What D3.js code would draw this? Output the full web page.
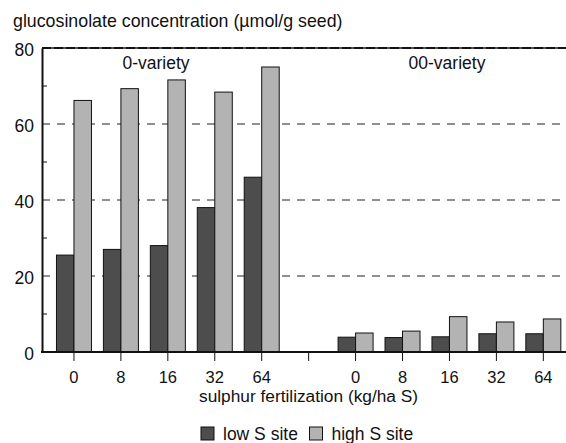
<!DOCTYPE html>
<html>
<head>
<meta charset="utf-8">
<script src="https://cdn.jsdelivr.net/npm/d3@7"></script>
<style>
  body { margin: 0; background: #fff; }
  text { font-family: "Liberation Sans", Arial, sans-serif; fill: #111; }
</style>
</head>
<body>
<div id="chart"></div>
<script>
// data
var doses = ["0", "8", "16", "32", "64"];
var varieties = ["0-variety", "00-variety"];
var seriesNames = ["low S site", "high S site"];
var lowS_0 = [25.5, 27, 28, 38, 46];
var highS_0 = [66.2, 69.3, 71.6, 68.4, 75];
var lowS_00 = [3.9, 3.8, 4.0, 4.8, 4.8];
var highS_00 = [5.0, 5.5, 9.3, 7.9, 8.7];
var yTicks = [0, 20, 40, 60, 80];
var yMinor = [10, 30, 50, 70];

var svgWidth = 566;
var svgHeight = 443;
var colors = ["#4d4d4d", "#b3b3b3"];
var fontSize = "17.5px";

var svg = d3.select("#chart").append("svg")
  .attr("width", svgWidth)
  .attr("height", svgHeight);

// categories: 5 doses, an empty slot, 5 doses
var cats = [];
doses.forEach(function(d, i) { cats.push({ key: "a" + i, dose: d, low: lowS_0[i], high: highS_0[i] }); });
cats.push({ key: "gap", dose: "", low: null, high: null });
doses.forEach(function(d, i) { cats.push({ key: "b" + i, dose: d, low: lowS_00[i], high: highS_00[i] }); });

var axisLeftX = 42;
var xScale = d3.scaleBand()
  .domain(cats.map(d => d.key))
  .range([50.5, 566.8])
  .paddingInner(0)
  .paddingOuter(0);

var yScale = d3.scaleLinear()
  .domain([0, 80])
  .range([352, 48]);

var right = svgWidth;
var barW = 17.5;

// dashed gridlines
svg.append("g").selectAll("line")
  .data([20, 40, 60])
  .enter().append("line")
  .attr("x1", axisLeftX).attr("x2", right)
  .attr("y1", d => yScale(d)).attr("y2", d => yScale(d))
  .attr("stroke", "#222")
  .attr("stroke-width", 1)
  .attr("stroke-dasharray", "8,7");

// top line at 80
svg.append("line")
  .attr("x1", axisLeftX).attr("x2", right)
  .attr("y1", yScale(80)).attr("y2", yScale(80))
  .attr("stroke", "#555").attr("stroke-width", 2);
svg.append("line")
  .attr("x1", axisLeftX).attr("x2", right)
  .attr("y1", yScale(80)).attr("y2", yScale(80))
  .attr("stroke", "#111").attr("stroke-width", 2)
  .attr("stroke-dasharray", "9,3");

// bars
var barData = cats.filter(d => d.low !== null);
var cx = d => xScale(d.key) + xScale.bandwidth() / 2;

svg.append("g").selectAll("rect")
  .data(barData)
  .enter().append("rect")
  .attr("x", d => cx(d) - barW)
  .attr("y", d => yScale(d.low))
  .attr("width", barW)
  .attr("height", d => yScale(0) - yScale(d.low))
  .attr("fill", colors[0])
  .attr("stroke", "#111")
  .attr("stroke-width", 1);

svg.append("g").selectAll("rect")
  .data(barData)
  .enter().append("rect")
  .attr("x", d => cx(d))
  .attr("y", d => yScale(d.high))
  .attr("width", barW)
  .attr("height", d => yScale(0) - yScale(d.high))
  .attr("fill", colors[1])
  .attr("stroke", "#111")
  .attr("stroke-width", 1);

// y axis
var leftAxis = d3.axisLeft(yScale).tickValues(yTicks).tickSize(0).tickPadding(8);
var yAxisG = svg.append("g")
  .attr("transform", `translate(${axisLeftX},0)`)
  .call(leftAxis);
yAxisG.select(".domain").attr("stroke", "#111").attr("stroke-width", 2);
yAxisG.selectAll("text").attr("font-size", fontSize).attr("dy", "7px")
  .style("font-family", "'Liberation Sans', Arial, sans-serif").attr("fill", "#111");

svg.append("g").selectAll("line")
  .data(yMinor)
  .enter().append("line")
  .attr("x1", axisLeftX).attr("x2", axisLeftX + 5)
  .attr("y1", d => yScale(d)).attr("y2", d => yScale(d))
  .attr("stroke", "#111");

// x axis
var bottomAxis = d3.axisBottom(xScale)
  .tickFormat(k => cats.find(c => c.key === k).dose)
  .tickSize(9).tickPadding(8);
var xAxisG = svg.append("g")
  .attr("transform", `translate(0,${yScale(0)})`)
  .call(bottomAxis);
xAxisG.select(".domain").remove();
xAxisG.selectAll(".tick line").attr("stroke", "#111");
xAxisG.selectAll("text").attr("font-size", "16.5px").attr("y", 30.5).attr("dy", 0)
  .style("font-family", "'Liberation Sans', Arial, sans-serif").attr("fill", "#111");

svg.append("line")
  .attr("x1", axisLeftX - 1).attr("x2", right)
  .attr("y1", yScale(0)).attr("y2", yScale(0))
  .attr("stroke", "#111").attr("stroke-width", 2);

// variety labels
svg.append("text")
  .attr("x", 156).attr("y", 69)
  .attr("text-anchor", "middle").attr("font-size", fontSize)
  .text(varieties[0]);
svg.append("text")
  .attr("x", 447).attr("y", 69)
  .attr("text-anchor", "middle").attr("font-size", fontSize)
  .text(varieties[1]);

// titles
svg.append("text")
  .attr("x", 13).attr("y", 27)
  .attr("font-size", "17.8px")
  .text("glucosinolate concentration (µmol/g seed)");

svg.append("text")
  .attr("x", 308.5).attr("y", 401.5)
  .attr("text-anchor", "middle").attr("font-size", "17.3px")
  .text("sulphur fertilization (kg/ha S)");

// legend
var legendX = [201, 309.5];
var legend = svg.append("g").selectAll("g")
  .data(seriesNames)
  .enter().append("g")
  .attr("transform", (d, i) => `translate(${legendX[i]},427)`);
legend.append("rect")
  .attr("width", 13).attr("height", 13)
  .attr("fill", (d, i) => colors[i])
  .attr("stroke", "#111");
legend.append("text")
  .attr("x", 22).attr("y", 13)
  .attr("font-size", fontSize)
  .text(d => d);
</script>
</body>
</html>
